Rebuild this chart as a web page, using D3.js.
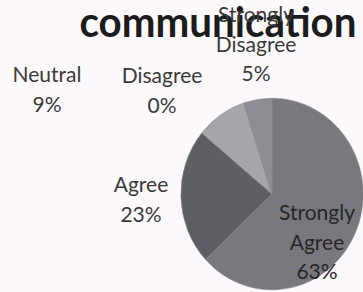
<!DOCTYPE html>
<html>
<head>
<meta charset="utf-8">
<script src="https://cdn.jsdelivr.net/npm/d3@7"></script>
<style>
  html, body { margin: 0; padding: 0; background: #fcf8fb; }
  svg { display: block; }
</style>
</head>
<body>
<div id="chart"></div>
<script>
// data
const categories = ["Strongly Agree", "Agree", "Neutral", "Disagree", "Strongly Disagree"]
const values = [63, 23, 9, 0, 5]
const title = "communication"

// label lines and where excel dropped them
const labelLines = [["Strongly", "Agree", "63%"], ["Agree", "23%"], ["Neutral", "9%"], ["Disagree", "0%"], ["Strongly", "Disagree", "5%"]]
const labelPos = [[317, 220], [141, 192], [47, 82], [162, 83], [256, 22]]
const colors = ["#78787e", "#5e5e65", "#a5a5aa", "#6a6a70", "#8d8d93"]

const width = 363
const height = 292
const cx = 272, cy = 194, r = 93

const svg = d3.select("#chart").append("svg")
    .attr("width", width)
    .attr("height", height)

svg.append("rect")
    .attr("width", width)
    .attr("height", height)
    .attr("fill", "#fcf8fb")

const pie = d3.pie().sort(null).value(d => d)
const arc = d3.arc().innerRadius(0).outerRadius(r)

const g = svg.append("g")
    .attr("transform", "translate(" + cx + "," + cy + ") scale(0.98,1.03)")

g.selectAll("path")
    .data(pie(values))
    .enter()
    .append("path")
    .attr("d", arc)
    .attr("fill", (d, i) => colors[i])
    .attr("stroke", "#8a8a90")
    .attr("stroke-width", 0.6)

// title, top line is cut off in the original
svg.append("text")
    .attr("x", 218)
    .attr("y", 37)
    .attr("text-anchor", "middle")
    .attr("font-family", "Lato, 'Open Sans', sans-serif")
    .attr("font-weight", "bold")
    .attr("font-size", 42)
    .attr("textLength", 277)
    .attr("lengthAdjust", "spacingAndGlyphs")
    .attr("fill", "#1c1c1c")
    .text(title)

const labels = svg.append("g")
    .attr("font-family", "Lato, 'Open Sans', sans-serif")
    .attr("font-size", 21)
    .attr("text-anchor", "middle")

categories.forEach((c, i) => {
    const t = labels.append("text")
        .attr("x", labelPos[i][0])
        .attr("y", labelPos[i][1])
        .attr("fill", i == 0 ? "#262626" : "#3a3a3a")
    labelLines[i].forEach((line, j) => {
        t.append("tspan")
            .attr("x", labelPos[i][0])
            .attr("dy", j == 0 ? 0 : 29.5)
            .text(line)
    })
})
</script>
</body>
</html>
